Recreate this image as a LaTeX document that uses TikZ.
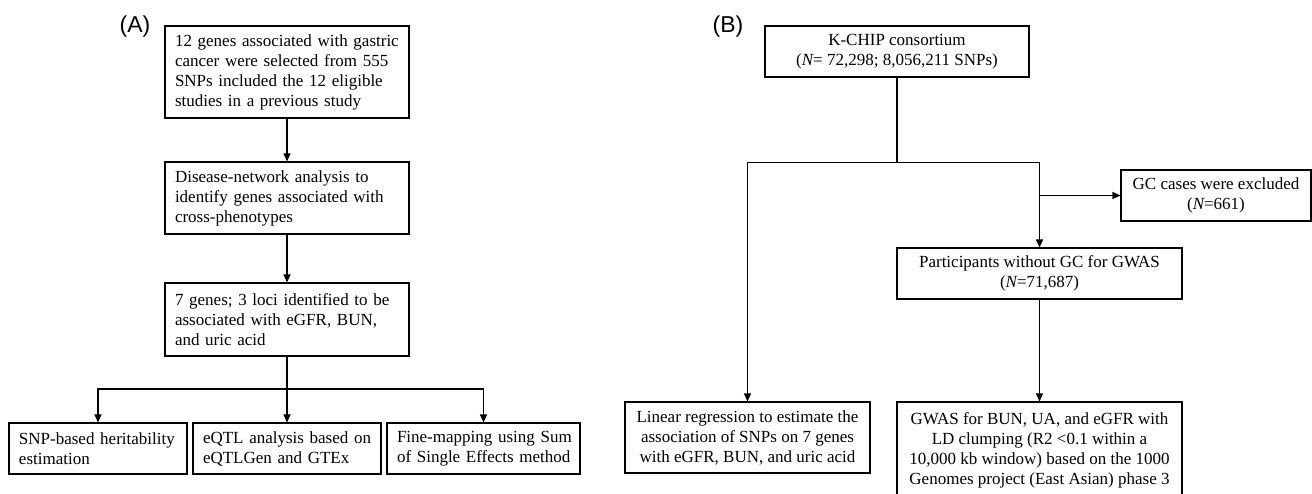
\documentclass[tikz,border=0pt]{standalone}
\usepackage{fontspec}
\setmainfont{Liberation Serif}
\newfontfamily\lblfont{Liberation Sans}
\usetikzlibrary{arrows.meta}
\begin{document}
\begin{tikzpicture}[x=1pt,y=-1pt,
  box/.style={draw, line width=1.1pt, inner sep=0pt, font=\fontsize{17}{20}\selectfont},
  lbox/.style={box, align=left, inner xsep=10pt},
  cbox/.style={box, align=center},
  ln/.style={line width=1.1pt},
  arr/.style={line width=1.1pt, -{Triangle[width=7pt,length=8pt]}},
  plabel/.style={font=\lblfont\fontsize{23}{26}\selectfont, inner sep=0pt}]
\useasboundingbox (0,0) rectangle (1312,493);
% Panel labels
\node[plabel] (labA) at (135,27) {(A)};
\node[plabel] (labB) at (728,27) {(B)};
% Panel A
\node[lbox, text width=224pt, minimum height=92pt] (a1) at (287,72)
  {\mbox{12 genes associated with gastric}\\\mbox{cancer were selected from 555}\\\mbox{SNPs included the 12 eligible}\\\mbox{studies in a previous study}};
\node[lbox, text width=224pt, minimum height=72pt] (a2) at (287,198)
  {\mbox{Disease-network analysis to}\\\mbox{identify genes associated with}\\\mbox{cross-phenotypes}};
\node[lbox, text width=224pt, minimum height=73pt] (a3) at (287,319.5)
  {\mbox{7 genes; 3 loci identified to be}\\\mbox{associated with eGFR, BUN,}\\\mbox{and uric acid}};
\node[lbox, text width=158pt, minimum height=51pt] (b1) at (98,448.5)
  {\mbox{SNP-based heritability}\\\mbox{estimation}};
\node[lbox, text width=168pt, minimum height=51pt] (b2) at (287,448.5)
  {\mbox{eQTL analysis based on}\\\mbox{eQTLGen and GTEx}};
\node[lbox, text width=173pt, minimum height=51pt] (b3) at (483.5,448.5)
  {\mbox{Fine-mapping using Sum}\\\mbox{of Single Effects method}};
\coordinate (jA) at (287,389);
\draw[arr] (a1) -- (a2);
\draw[arr] (a2) -- (a3);
\draw[ln] (a3.south) -- (jA);
\draw[arr] (jA) -| (b1);
\draw[arr] (jA) -- (b2);
\draw[arr] (jA) -| (b3);
% Panel B
\node[cbox, minimum width=264pt, minimum height=51pt] (k) at (897,51.5)
  {K-CHIP consortium\\({\itshape N}= 72,298; 8,056,211 SNPs)};
\node[cbox, minimum width=190pt, minimum height=51pt] (gc) at (1216,195.5)
  {GC cases were excluded\\({\itshape N}=661)};
\node[cbox, minimum width=285pt, minimum height=51pt] (p) at (1039.5,273.5)
  {Participants without GC for GWAS\\({\itshape N}=71,687)};
\node[cbox, minimum width=245pt, minimum height=71pt] (lin) at (747.5,437.5)
  {Linear regression to estimate the\\association of SNPs on 7 genes\\with eGFR, BUN, and uric acid};
\node[cbox, minimum width=285pt, minimum height=96pt] (gw) at (1039.5,450)
  {GWAS for BUN, UA, and eGFR with\\LD clumping (R2 {<}0.1 within a\\10,000 kb window) based on the 1000\\Genomes project (East Asian) phase 3};
\coordinate (jB) at (897,162.5);
\coordinate (jC) at (1039.5,162.5);
\coordinate (jG) at (1039.5,195.5);
\draw[ln] (k.south) -- (jB);
\draw[arr] (jB) -| (lin);
\draw[ln] (jB) -- (jC);
\draw[arr] (jC) -- (p);
\draw[arr] (jG) -- (gc);
\draw[arr] (p) -- (gw);
\end{tikzpicture}
\end{document}
